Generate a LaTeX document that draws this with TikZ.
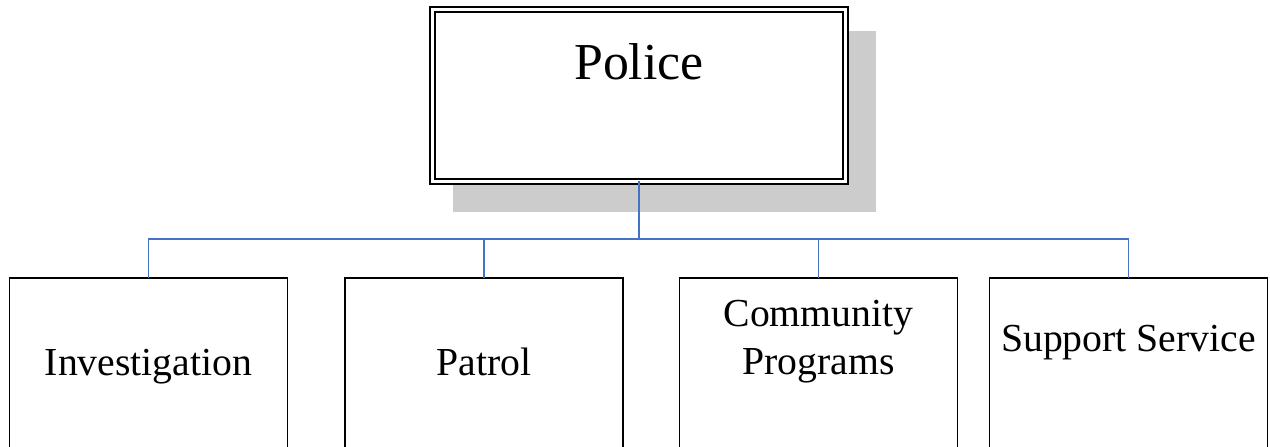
\documentclass[tikz,border=0pt]{standalone}
\usepackage{fontspec}
\setmainfont{Liberation Serif}
\usepackage{xcolor}
\usepackage{tikz}
\usetikzlibrary{calc,backgrounds}
\definecolor{linkblue}{HTML}{4472C4}
\tikzset{
  head/.style={draw, double, line width=1.2pt, double distance=1.6pt, fill=white,
    minimum width=8.26cm, inner sep=0pt, outer sep=0pt, anchor=north, align=center,
    font=\fontsize{29.5}{35}\selectfont},
  unit/.style={draw, line width=1pt, fill=white, minimum width=5.56cm,
    inner sep=0pt, outer sep=0pt, anchor=north, align=center,
    font=\fontsize{22.6}{27.6}\selectfont},
  shade/.style={fill=black!20},
  link/.style={draw=linkblue, line width=0.8pt}
}

\begin{document}
\begin{tikzpicture}[x=0.02cm, y=-0.02cm]
    \useasboundingbox (0,0) rectangle (1270,446);
    \clip (0,0) rectangle (1270,446);

    % Nodes
    \node[head, text height=1.41cm, text depth=2.03cm] (police) at (639,9.5) {Police};
    \node[unit, text height=1.95cm, text depth=2.05cm] (invest) at (148.5,278) {Investigation};
    \node[unit, text height=1.95cm, text depth=2.05cm] (patrol) at (484,278) {Patrol};
    \node[unit, text height=1.94cm, text depth=2.06cm] (community) at (818.5,278) {Community\\ Programs};
    \node[unit, text height=1.47cm, text depth=2.53cm] (support) at (1128.5,278) {Support Service};

    % Shadow behind the top box
    \begin{scope}[on background layer]
      \fill[shade] ($(police.north west)+(20.5,21.5)$) rectangle ($(police.south east)+(30.5,30.5)$);
    \end{scope}

    % Connectors
    \coordinate (bus) at (639,239);
    \draw[link] (police.south) -- (police.south |- bus);
    \draw[link] (police.south |- bus) -| (invest.north);
    \draw[link] (police.south |- bus) -| (patrol.north);
    \draw[link] (police.south |- bus) -| (community.north);
    \draw[link] (police.south |- bus) -| (support.north);
\end{tikzpicture}
\end{document}
